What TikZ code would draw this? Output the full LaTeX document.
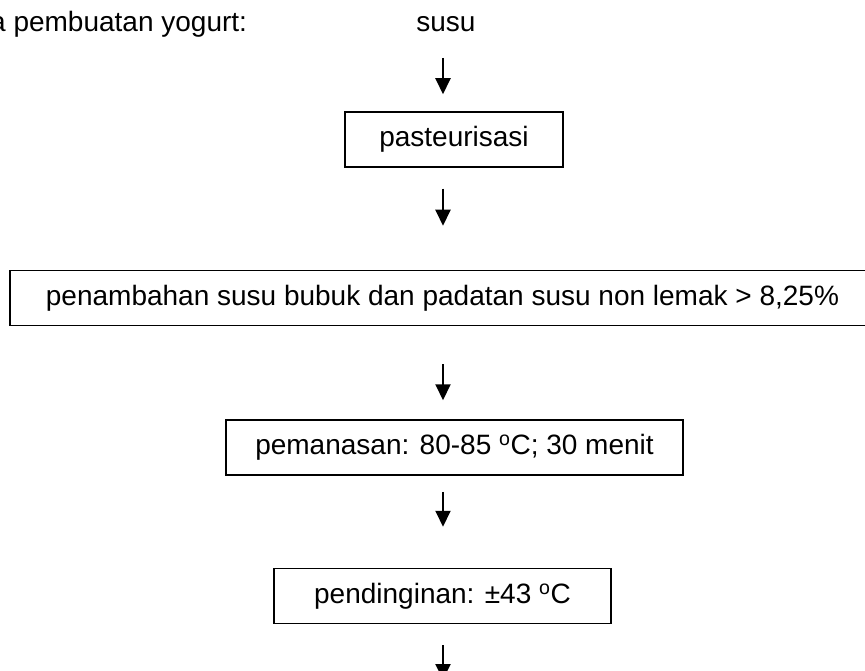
\documentclass[tikz,border=0pt]{standalone}
\usepackage{fontspec}
\setmainfont{Liberation Sans}
\usetikzlibrary{positioning,arrows.meta}

\begin{document}
\begin{tikzpicture}[
    x=1pt, y=1pt,
    every node/.style={font=\fontsize{28}{34}\selectfont, inner sep=0pt},
    box/.style={draw, line width=1.5pt, minimum height=55pt},
    flow/.style={line width=2pt, -{Triangle[width=15pt,length=16pt]}}
]

\fill[white] (0,0) rectangle (865,-671);
\useasboundingbox (0,0) rectangle (865,-671);
\clip (0,0) rectangle (865,-671);

\coordinate (spine) at (443,0);
\coordinate (next) at (443,-680);

\node[anchor=base west] (title) at (-10,-32) {a pembuatan yogurt:};
\node[anchor=base] (susu) at (446,-32) {susu};

\node[box, minimum width=218pt] (pasteur) at (454,-139.5) {pasteurisasi};
\node[box, minimum width=865pt, below=102pt of pasteur, xshift=-11.5pt] (tambah) {penambahan susu bubuk dan padatan susu non lemak > 8,25\%};
\node[box, minimum width=457pt, below=93pt of tambah, xshift=12pt] (panas) {pemanasan: 80-85 \textsuperscript{o}C; 30 menit};
\node[box, minimum width=337pt, below=92pt of panas, xshift=-12pt] (dingin) {pendinginan: ±43 \textsuperscript{o}C};

\draw[flow, shorten <=26pt, shorten >=17pt] (susu.base -| spine) -- (pasteur.north -| spine);
\draw[flow, shorten <=21pt, shorten >=44pt] (pasteur.south -| spine) -- (tambah.north -| spine);
\draw[flow, shorten <=38pt, shorten >=19pt] (tambah.south -| spine) -- (panas.north -| spine);
\draw[flow, shorten <=16pt, shorten >=41pt] (panas.south -| spine) -- (dingin.north -| spine);
\draw[flow, shorten <=21pt] (dingin.south -| spine) -- (next);

\end{tikzpicture}
\end{document}
